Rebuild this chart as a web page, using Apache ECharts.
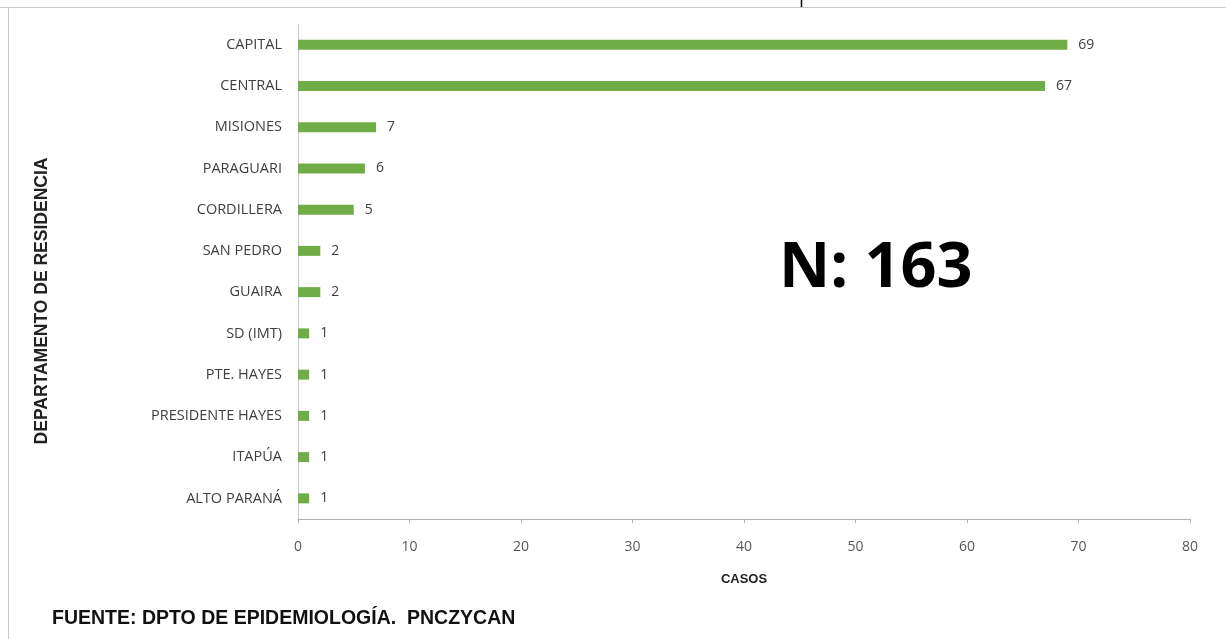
<!DOCTYPE html>
<html><head><meta charset="utf-8">
<script src="https://cdn.jsdelivr.net/npm/echarts@6/dist/echarts.min.js"></script>
<style>html,body{margin:0;padding:0;background:#fff}#c{width:1226px;height:639px}</style>
</head><body><div id="c"></div>
<script>
const categories = ["CAPITAL","CENTRAL","MISIONES","PARAGUARI","CORDILLERA","SAN PEDRO","GUAIRA","SD (IMT)","PTE. HAYES","PRESIDENTE HAYES","ITAPÚA","ALTO PARANÁ"];
const casos = [69,67,7,6,5,2,2,1,1,1,1,1];
const xTicks = [0,10,20,30,40,50,60,70,80];

const chart = echarts.init(document.getElementById('c'));
chart.setOption({
  animation:false,
  backgroundColor:'#fff',
  grid:{left:298,right:36,top:24,bottom:120},
  xAxis:{type:'value',min:0,max:80,interval:10,
    name:'CASOS',nameLocation:'middle',nameGap:54,
    nameTextStyle:{fontFamily:'Liberation Sans',fontWeight:'bold',fontSize:13,color:'#222'},
    axisLine:{show:true,lineStyle:{color:'#b0b0b0'}},
    axisTick:{show:true,length:4,lineStyle:{color:'#b0b0b0'}},
    axisLabel:{fontFamily:'Open Sans',fontSize:14,color:'#595959',margin:21},
    splitLine:{show:false}},
  yAxis:{type:'category',data:categories,inverse:true,
    axisLine:{show:true,lineStyle:{color:'#c8c8c8'}},
    axisTick:{show:false},
    axisLabel:{fontFamily:'Open Sans',fontSize:14.5,color:'#404040',margin:16}},
  series:[{type:'bar',data:casos,barWidth:10,
    itemStyle:{color:'#70AD47'},
    label:{show:true,position:'right',distance:11,fontFamily:'Open Sans',fontSize:14,color:'#404040'}}],
  graphic:[
    {type:'line',shape:{x1:0,y1:7.5,x2:1226,y2:7.5},style:{stroke:'#c8c8c8',lineWidth:1}},
    {type:'line',shape:{x1:8.5,y1:7,x2:8.5,y2:639},style:{stroke:'#c8c8c8',lineWidth:1}},
    {type:'line',shape:{x1:801.5,y1:0,x2:801.5,y2:7},style:{stroke:'#000',lineWidth:1.5}},
    {type:'text',x:42,y:301,rotation:Math.PI/2,style:{text:'DEPARTAMENTO DE RESIDENCIA',fontFamily:'Liberation Sans',fontWeight:'bold',fontSize:17.5,fill:'#222',align:'center',verticalAlign:'middle'}},
    {type:'text',left:779,top:238,style:{text:'N: 163',fontFamily:'Open Sans',fontWeight:'bold',fontSize:63,fill:'#000'}},
    {type:'text',left:52,top:609,style:{text:'FUENTE: DPTO DE EPIDEMIOLOGÍA.  PNCZYCAN',fontFamily:'Liberation Sans',fontWeight:'bold',fontSize:19.5,fill:'#111'}}
  ]
});
</script></body></html>
